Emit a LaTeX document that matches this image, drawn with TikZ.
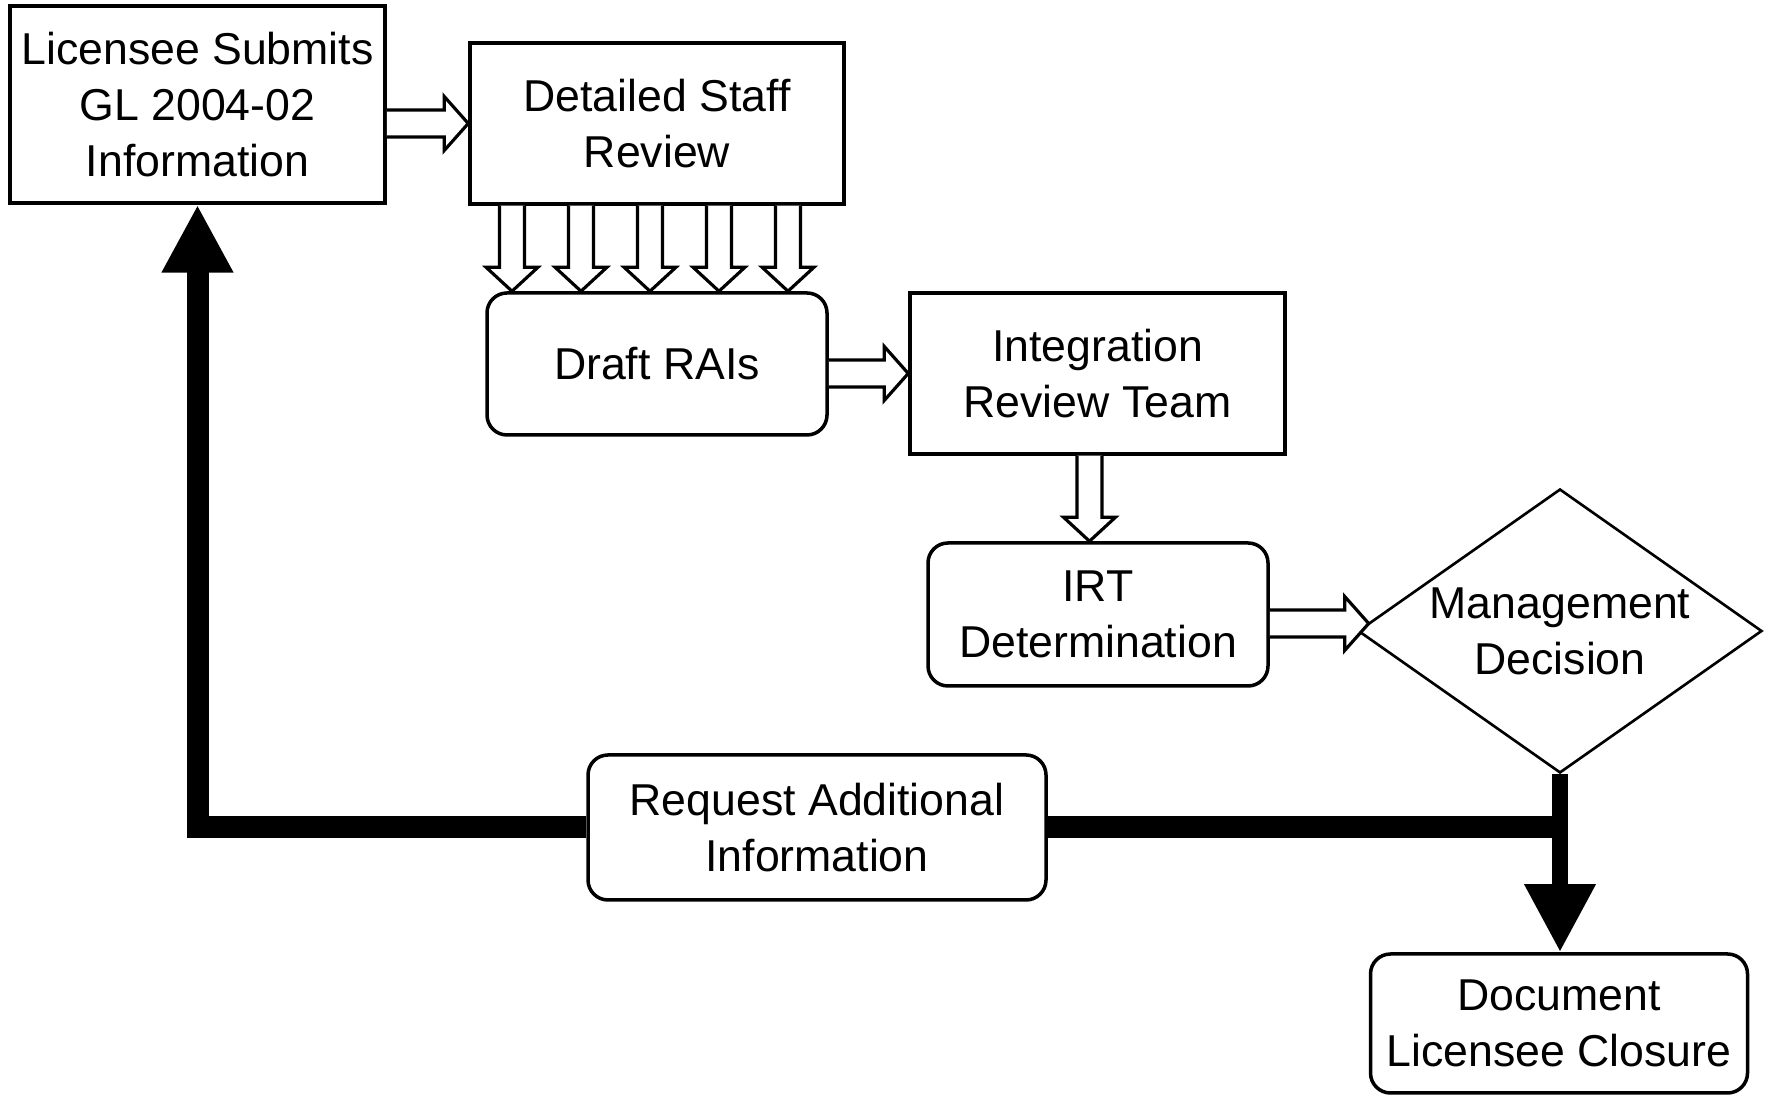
\documentclass[tikz,border=0pt]{standalone}
\usepackage{fontspec}
\setmainfont{Liberation Sans}
\usetikzlibrary{shapes.geometric,arrows.meta,calc}

% hollow block arrows (start, tip)
\newcommand{\hollowright}[2]{%
  \draw[hollow] ($(#1)+(0,0.135)$) -- ($(#2)+(-0.24,0.135)$) -- ($(#2)+(-0.24,0.27)$) -- (#2)
    -- ($(#2)+(-0.24,-0.27)$) -- ($(#2)+(-0.24,-0.135)$) -- ($(#1)+(0,-0.135)$);}
\newcommand{\hollowdown}[2]{%
  \draw[hollow] ($(#1)+(-0.125,0)$) -- ($(#2)+(-0.125,0.24)$) -- ($(#2)+(-0.26,0.24)$) -- (#2)
    -- ($(#2)+(0.26,0.24)$) -- ($(#2)+(0.125,0.24)$) -- ($(#1)+(0.125,0)$);}

\begin{document}
\begin{tikzpicture}[
    box/.style={rectangle, draw, line width=1pt, inner sep=2pt, align=center, font=\fontsize{12.7}{15.9}\selectfont},
    roundbox/.style={box, rounded corners=0.2cm},
    decision/.style={diamond, draw, line width=0.75pt, inner sep=0pt, aspect=1.42, minimum width=4.04cm, minimum height=2.84cm, align=center, font=\fontsize{12.7}{15.9}\selectfont},
    hollow/.style={draw, fill=white, line width=0.9pt, line join=miter},
    heavy/.style={line width=0.22cm, -{Triangle[length=0.68cm, width=0.67cm]}}
]
    \useasboundingbox (0,0) rectangle (17.67,10.95);

    \node[box, minimum width=3.75cm, minimum height=1.97cm] (licensee) at (1.975, 9.905) {Licensee Submits\\GL 2004-02\\Information};
    \node[box, minimum width=3.74cm, minimum height=1.61cm] (review) at (6.57, 9.715) {Detailed Staff\\Review};
    \node[roundbox, minimum width=3.40cm, minimum height=1.42cm] (draft) at (6.57, 7.31) {Draft RAIs};
    \node[box, minimum width=3.75cm, minimum height=1.61cm] (irt) at (10.975, 7.215) {Integration\\Review Team};
    \node[roundbox, minimum width=3.40cm, minimum height=1.43cm] (irtdet) at (10.98, 4.805) {IRT\\Determination};
    \node[decision] (mgmt) at (15.60, 4.64) {Management\\Decision};
    \node[roundbox, minimum width=4.58cm, minimum height=1.45cm] (request) at (8.17, 2.675) {Request Additional\\Information};
    \node[roundbox, minimum width=3.77cm, minimum height=1.39cm] (closure) at (15.59, 0.715) {Document\\Licensee Closure};

    % hollow arrows
    \hollowright{licensee.east |- review.west}{review.west}
    \foreach \dx [count=\i] in {-1.45,-0.76,-0.07,0.62,1.31} {
        \coordinate (top\i) at ($(review.south)+(\dx,0)$);
        \coordinate (bot\i) at (top\i |- draft.north);
        \hollowdown{top\i}{bot\i}
    }
    \hollowright{draft.east |- irt.west}{irt.west}
    \coordinate (istart) at ($(irt.south)+(-0.08,0)$);
    \coordinate (iend) at (istart |- irtdet.north);
    \hollowdown{istart}{iend}
    \coordinate (dstart) at ($(irtdet.east)+(0,-0.09)$);
    \coordinate (dend) at ($(mgmt.west |- dstart)+(0.12,0)$);
    \hollowright{dstart}{dend}

    % decision outcomes
    \coordinate (junction) at (mgmt.south |- request.east);
    \draw[heavy, line width=0.16cm] (mgmt.south) -- (mgmt.south |- closure.north);
    \draw[line width=0.22cm] (junction) -- (request.east);
    \draw[heavy] (request.west) -| (licensee.south);
\end{tikzpicture}
\end{document}
